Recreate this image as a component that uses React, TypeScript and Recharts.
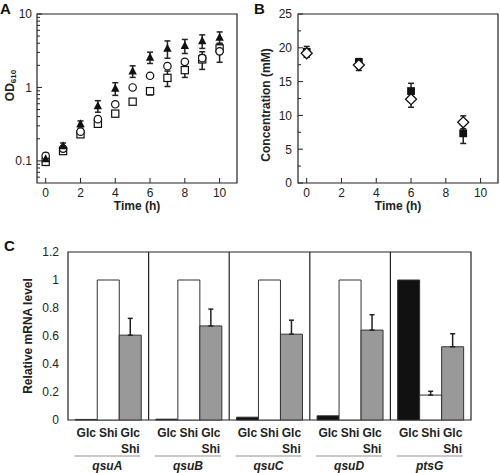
import React from "react";
import {
  ScatterChart,
  Scatter,
  BarChart,
  Bar,
  XAxis,
  YAxis,
  ErrorBar,
  ReferenceArea,
  ReferenceLine,
  LabelList,
} from "recharts";

const FONT = '"Liberation Sans", Arial, sans-serif';
const INK = "#222";

// panel A: growth (OD610) over time
const hoursA = [0, 1, 2, 3, 4, 5, 6, 7, 8, 9, 10];
const odTriangle = [0.107, 0.16, 0.32, 0.56, 0.97, 1.67, 2.57, 3.4, 3.7, 4.3, 4.8];
const odTriangleErr = [0.01, 0.015, 0.03, 0.1, 0.19, 0.3, 0.45, 0.9, 0.8, 0.9, 0.9];
const odCircle = [0.117, 0.147, 0.25, 0.37, 0.59, 1.0, 1.44, 1.95, 2.23, 2.5, 3.1];
const odCircleErr = [0.01, 0.01, 0.02, 0.03, 0.04, 0.05, 0.08, 0.1, 0.15, 0.3, 0.9];
const odSquare = [0.097, 0.136, 0.23, 0.32, 0.44, 0.64, 0.89, 1.35, 1.72, 2.41, 3.4];
const odSquareErr = [0.01, 0.01, 0.02, 0.03, 0.04, 0.05, 0.1, 0.32, 0.35, 0.65, 0.5];
const xTicksA = [0, 2, 4, 6, 8, 10];
const yTicksA = [
  0.06, 0.07, 0.08, 0.09, 0.1, 0.2, 0.3, 0.4, 0.5, 0.6, 0.7, 0.8, 0.9, 1, 2, 3, 4, 5,
  6, 7, 8, 9, 10,
];
const yMajorA = [0.1, 1, 10];

// panel B: concentration over time
const hoursB = [0, 3, 6, 9];
const concSquare = [19.4, 17.9, 13.6, 7.35];
const concSquareErr = [0.8, 0.5, 1.15, 1.5];
const concDiamond = [19.2, 17.45, 12.4, 8.98];
const concDiamondErr = [0.6, 0.8, 1.2, 0.95];
const xTicksB = [0, 2, 4, 6, 8, 10];
const yTicksB = [0, 2.5, 5, 7.5, 10, 12.5, 15, 17.5, 20, 22.5, 25];
const yMajorB = [0, 5, 10, 15, 20, 25];

// panel C: relative mRNA level
const genes = ["qsuA", "qsuB", "qsuC", "qsuD", "ptsG"];
const barLabels = ["Glc", "Shi", "Glc\nShi"];
const mrnaGlc = [0.004, 0.006, 0.02, 0.03, 1];
const mrnaShi = [1, 1, 1, 1, 0.178];
const mrnaShiErr = [0, 0, 0, 0, 0.027];
const mrnaGlcShi = [0.606, 0.672, 0.613, 0.642, 0.523];
const mrnaGlcShiErr = [0.12, 0.12, 0.1, 0.11, 0.093];
const yTicksC = [0, 0.2, 0.4, 0.6, 0.8, 1, 1.2];

const rows = (t: number[], v: number[], e: number[]) =>
  t.map((x, i) => ({ t: x, v: v[i], e: e[i] }));

// upward-only error bars; no bar where there is no error
const upErr = (e: number) => (e > 0 ? [0, e] : null);

const rowsC = genes.map((g, i) => ({
  gene: g,
  glc: mrnaGlc[i],
  shi: mrnaShi[i],
  shiErr: upErr(mrnaShiErr[i]),
  glcShi: mrnaGlcShi[i],
  glcShiErr: upErr(mrnaGlcShiErr[i]),
}));

// markers
const triangle = (p: any) => (
  <path
    d={`M${p.cx},${p.cy - 4.6}L${p.cx + 4.2},${p.cy + 3.4}L${p.cx - 4.2},${p.cy + 3.4}Z`}
    fill="#111"
  />
);
const circle = (p: any) => (
  <circle cx={p.cx} cy={p.cy} r={3.7} fill="#fff" stroke="#111" strokeWidth={1.2} />
);
const openSquare = (p: any) => (
  <rect x={p.cx - 3.6} y={p.cy - 3.6} width={7.2} height={7.2} fill="#fff" stroke="#111" strokeWidth={1.2} />
);
const filledSquare = (p: any) => (
  <rect x={p.cx - 3.9} y={p.cy - 3.9} width={7.8} height={7.8} fill="#111" />
);
const diamond = (p: any) => (
  <path
    d={`M${p.cx},${p.cy - 5.5}L${p.cx + 5.5},${p.cy}L${p.cx},${p.cy + 5.5}L${p.cx - 5.5},${p.cy}Z`}
    fill="#fff"
    stroke="#111"
    strokeWidth={1.3}
  />
);

const textStyle = { fontFamily: FONT, fill: INK } as const;

// ticks drawn inside the frame, labels outside
const xTickInside = (gap: number) => (p: any) => (
  <g>
    <line x1={p.x} x2={p.x} y1={p.y - gap} y2={p.y - gap - 5} stroke={INK} />
    <text x={p.x} y={p.y} dy="0.72em" textAnchor="middle" fontSize={12} {...textStyle}>
      {p.payload.value}
    </text>
  </g>
);

const yTickInside = (gap: number, majors: number[]) => (p: any) => {
  const v = p.payload.value;
  const major = majors.includes(v);
  const ax = p.x + gap;
  return (
    <g>
      <line x1={ax} x2={ax + (major ? 5 : 3)} y1={p.y} y2={p.y} stroke={INK} />
      {major && (
        <text x={p.x} y={p.y} dy="0.36em" textAnchor="end" fontSize={12} {...textStyle}>
          {v}
        </text>
      )}
    </g>
  );
};

const xTitle = (text: string, dy: number) => (p: any) => {
  const vb = p.viewBox;
  return (
    <text
      x={vb.x + vb.width / 2}
      y={vb.y + dy}
      textAnchor="middle"
      dominantBaseline="central"
      fontSize={12}
      fontWeight="bold"
      {...textStyle}
    >
      {text}
    </text>
  );
};

const yTitle = (text: string, sub: string, left: number, shift: number) => (p: any) => {
  const vb = p.viewBox;
  const x = vb.x + left;
  const y = vb.y + vb.height / 2 + shift;
  return (
    <text
      x={x}
      y={y}
      transform={`rotate(-90 ${x} ${y})`}
      textAnchor="middle"
      dominantBaseline="central"
      fontSize={12}
      fontWeight="bold"
      {...textStyle}
    >
      {text}
      {sub && (
        <tspan fontSize={8} dy={3}>
          {sub}
        </tspan>
      )}
    </text>
  );
};

const geneTick = (p: any) => (
  <g>
    <line x1={p.x - 34} x2={p.x + 32} y1={p.y + 36} y2={p.y + 36} stroke="#c8c8c8" strokeWidth={2} />
    <text
      x={p.x - 1}
      y={p.y + 46}
      textAnchor="middle"
      dominantBaseline="central"
      fontSize={12}
      fontWeight="bold"
      fontStyle="italic"
      {...textStyle}
    >
      {p.payload.value}
    </text>
  </g>
);

const barLabel = (label: string) => (p: any) => {
  const vb = p.viewBox ?? p;
  const cx = vb.x + vb.width / 2;
  const base = vb.y + vb.height;
  return (
    <text textAnchor="middle" fontSize={12} fontWeight="bold" {...textStyle}>
      {label.split("\n").map((s, k) => (
        <tspan key={k} x={cx} y={base + 12.5 + k * 16} dominantBaseline="central">
          {s}
        </tspan>
      ))}
    </text>
  );
};

const letter = (ch: string, left: number, top: number) => (
  <div
    style={{
      position: "absolute",
      left,
      top,
      fontFamily: FONT,
      fontWeight: "bold",
      fontSize: 15,
      lineHeight: "15px",
      color: "#111",
    }}
  >
    {ch}
  </div>
);

export default function App() {
  return (
    <div style={{ position: "absolute", left: 0, top: 0, width: 500, height: 473, background: "#fff" }}>
      {letter("A", 0, 1)}
      {letter("B", 254, 1)}
      {letter("C", 4, 238)}

      <div style={{ position: "absolute", left: 0, top: 0 }}>
        <ScatterChart width={245} height={215} margin={{ top: 14, right: 8, bottom: 0, left: 0 }}>
          <XAxis
            type="number"
            dataKey="t"
            domain={[-0.5, 11]}
            ticks={xTicksA}
            interval={0}
            tickSize={0}
            tickMargin={5}
            axisLine={false}
            tickLine={false}
            tick={xTickInside(5)}
            height={32}
            label={xTitle("Time (h)", 23)}
            allowDataOverflow
          />
          <YAxis
            type="number"
            dataKey="v"
            scale="log"
            domain={[0.05, 10]}
            ticks={yTicksA}
            interval={0}
            tickSize={0}
            tickMargin={5}
            axisLine={false}
            tickLine={false}
            tick={yTickInside(5, yMajorA)}
            width={37}
            label={yTitle("OD", "610", 10, -13)}
            allowDataOverflow
          />
          <ReferenceArea x1={-0.5} x2={11} y1={0.05} y2={10} fill="none" stroke={INK} strokeWidth={1.2} />
          <Scatter data={rows(hoursA, odSquare, odSquareErr)} shape={openSquare} isAnimationActive={false}>
            <ErrorBar dataKey="e" direction="y" width={3} stroke={INK} />
          </Scatter>
          <Scatter data={rows(hoursA, odCircle, odCircleErr)} shape={circle} isAnimationActive={false}>
            <ErrorBar dataKey="e" direction="y" width={3} stroke={INK} />
          </Scatter>
          <Scatter data={rows(hoursA, odTriangle, odTriangleErr)} shape={triangle} isAnimationActive={false}>
            <ErrorBar dataKey="e" direction="y" width={3} stroke={INK} />
          </Scatter>
        </ScatterChart>
      </div>

      <div style={{ position: "absolute", left: 250, top: 0 }}>
        <ScatterChart width={250} height={215} margin={{ top: 14, right: 2, bottom: 0, left: 0 }}>
          <XAxis
            type="number"
            dataKey="t"
            domain={[-0.5, 11]}
            ticks={xTicksB}
            interval={0}
            tickSize={0}
            tickMargin={5}
            axisLine={false}
            tickLine={false}
            tick={xTickInside(5)}
            height={32}
            label={xTitle("Time (h)", 23)}
            allowDataOverflow
          />
          <YAxis
            type="number"
            dataKey="v"
            domain={[0, 25]}
            ticks={yTicksB}
            interval={0}
            tickSize={0}
            tickMargin={6}
            axisLine={false}
            tickLine={false}
            tick={yTickInside(6, yMajorB)}
            width={48}
            label={yTitle("Concentration (mM)", "", 15.5, 6.5)}
            allowDataOverflow
          />
          <ReferenceArea x1={-0.5} x2={11} y1={0} y2={25} fill="none" stroke={INK} strokeWidth={1.2} />
          <Scatter data={rows(hoursB, concSquare, concSquareErr)} shape={filledSquare} isAnimationActive={false}>
            <ErrorBar dataKey="e" direction="y" width={3} stroke={INK} />
          </Scatter>
          <Scatter data={rows(hoursB, concDiamond, concDiamondErr)} shape={diamond} isAnimationActive={false}>
            <ErrorBar dataKey="e" direction="y" width={3} stroke={INK} />
          </Scatter>
        </ScatterChart>
      </div>

      <div style={{ position: "absolute", left: 0, top: 230 }}>
        <BarChart
          width={500}
          height={243}
          data={rowsC}
          margin={{ top: 22, right: 29, bottom: 0, left: 0 }}
          barGap={0}
          barCategoryGap="9%"
        >
          <XAxis
            dataKey="gene"
            interval={0}
            tickSize={0}
            tickMargin={0}
            axisLine={false}
            tickLine={false}
            tick={geneTick}
            height={53}
          />
          <YAxis
            domain={[0, 1.2]}
            ticks={yTicksC}
            interval={0}
            tickSize={0}
            tickMargin={9}
            axisLine={false}
            tickLine={false}
            tick={{ fontSize: 12, fill: INK, fontFamily: FONT }}
            width={68}
            label={yTitle("Relative mRNA level", "", 28, 0)}
          />
          <ReferenceArea
            x1={genes[0]}
            x2={genes[genes.length - 1]}
            y1={0}
            y2={1.2}
            fill="none"
            stroke={INK}
            strokeWidth={1.2}
          />
          {genes.slice(1).map((g) => (
            <ReferenceLine key={g} x={g} position="start" stroke={INK} strokeWidth={1.2} />
          ))}
          <Bar dataKey="glc" fill="#111" stroke="#333" isAnimationActive={false}>
            <LabelList content={barLabel(barLabels[0])} />
          </Bar>
          <Bar dataKey="shi" fill="#fff" stroke="#333" isAnimationActive={false}>
            <ErrorBar dataKey="shiErr" direction="y" width={2.5} stroke={INK} />
            <LabelList content={barLabel(barLabels[1])} />
          </Bar>
          <Bar dataKey="glcShi" fill="#999" stroke="#333" isAnimationActive={false}>
            <ErrorBar dataKey="glcShiErr" direction="y" width={2.5} stroke={INK} />
            <LabelList content={barLabel(barLabels[2])} />
          </Bar>
        </BarChart>
      </div>
    </div>
  );
}
